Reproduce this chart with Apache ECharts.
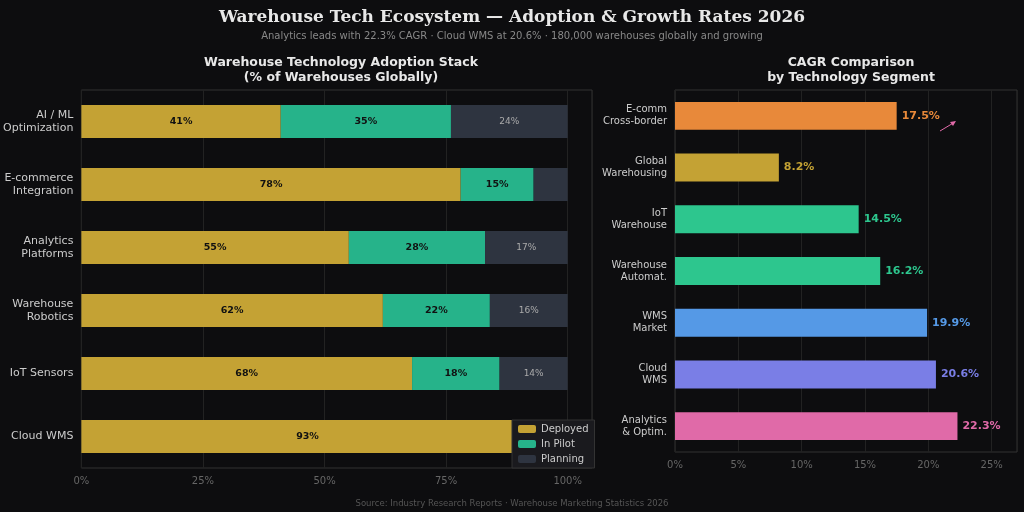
<!DOCTYPE html><html><head><meta charset="utf-8"><script src="https://cdn.jsdelivr.net/npm/echarts@6/dist/echarts.min.js"></script>
<style>body{margin:0;background:#0d0d0f}#c{width:1024px;height:512px}</style></head><body><div id="c"></div><script>
const stackCats=['AI / ML\nOptimization','E-commerce\nIntegration','Analytics\nPlatforms','Warehouse\nRobotics','IoT Sensors','Cloud WMS'];
const deployed=[41,78,55,62,68,93];
const pilot=[35,15,28,22,18,4];
const planning=[24,7,17,16,14,3];
const cagrCats=['E-comm\nCross-border','Global\nWarehousing','IoT\nWarehouse','Warehouse\nAutomat.','WMS\nMarket','Cloud\nWMS','Analytics\n& Optim.'];
const cagr=[17.5,8.2,14.5,16.2,19.9,20.6,22.3];
const cagrColors=['#e8893a','#c4a234','#2dc68e','#2dc68e','#5599e6','#7a7ee6','#e06aa8'];
const ff='DejaVu Sans';
const ch=echarts.init(document.getElementById('c'));
const axisC={color:'#666',fontFamily:ff,fontSize:10};
ch.setOption({backgroundColor:'#0d0d0f',animation:false,
title:[{text:'Warehouse Tech Ecosystem — Adoption & Growth Rates 2026',left:'center',top:4,textStyle:{color:'#e8e8e8',fontFamily:'DejaVu Serif',fontSize:17,fontWeight:'bold'}},
{text:'Analytics leads with 22.3% CAGR · Cloud WMS at 20.6% · 180,000 warehouses globally and growing',left:'center',top:26,textStyle:{color:'#888',fontFamily:ff,fontSize:10,fontWeight:'normal'}},
{text:'Warehouse Technology Adoption Stack\n(% of Warehouses Globally)',left:336,textAlign:'center',top:50,textStyle:{color:'#e8e8e8',fontFamily:ff,fontSize:12.5,fontWeight:'bold',lineHeight:15}},
{text:'CAGR Comparison\nby Technology Segment',left:846,textAlign:'center',top:50,textStyle:{color:'#e8e8e8',fontFamily:ff,fontSize:12.5,fontWeight:'bold',lineHeight:15}},
{text:'Source: Industry Research Reports · Warehouse Marketing Statistics 2026',left:'center',top:494,textStyle:{color:'#555',fontFamily:ff,fontSize:8.5,fontWeight:'normal'}}],
legend:{data:['Deployed','In Pilot','Planning'],orient:'vertical',left:512,top:420,itemWidth:18,itemHeight:8,itemGap:5,backgroundColor:'#1a1a1e',borderColor:'#333',borderWidth:1,padding:[4,6],textStyle:{color:'#ccc',fontFamily:ff,fontSize:10}},
grid:[{left:80,top:90,width:512,height:378,show:true,borderColor:'#333',backgroundColor:'transparent'},
{left:675,top:90,width:342,height:362,show:true,borderColor:'#333',backgroundColor:'transparent'}],
xAxis:[{gridIndex:0,type:'value',min:0,max:105,interval:25,axisLabel:{...axisC,formatter:v=>v>100?'':v+'%',showMaxLabel:false},splitLine:{lineStyle:{color:'#222'}},axisLine:{show:false},axisTick:{show:false}},
{gridIndex:1,type:'value',min:0,max:27,interval:5,axisLabel:{...axisC,formatter:v=>v>25?'':v+'%',showMaxLabel:false},splitLine:{lineStyle:{color:'#222'}},axisLine:{show:false},axisTick:{show:false}}],
yAxis:[{gridIndex:0,type:'category',inverse:true,data:stackCats,axisLabel:{color:'#ccc',fontFamily:ff,fontSize:11,lineHeight:13},axisLine:{show:false},axisTick:{show:false}},
{gridIndex:1,type:'category',inverse:true,data:cagrCats,axisLabel:{color:'#ccc',fontFamily:ff,fontSize:10,lineHeight:12},axisLine:{show:false},axisTick:{show:false}}],
series:[
{name:'Deployed',type:'bar',stack:'s',barWidth:'52%',data:deployed,itemStyle:{color:'#c4a234'},label:{show:true,formatter:'{c}%',color:'#111',fontWeight:'bold',fontSize:9.5,fontFamily:ff}},
{name:'In Pilot',type:'bar',stack:'s',data:pilot,itemStyle:{color:'#26b38a'},label:{show:true,formatter:p=>p.value>=10?p.value+'%':'',color:'#111',fontWeight:'bold',fontSize:9.5,fontFamily:ff}},
{name:'Planning',type:'bar',stack:'s',data:planning,itemStyle:{color:'#2e3440'},label:{show:true,formatter:p=>p.value>=10?p.value+'%':'',color:'#aaa',fontSize:9,fontFamily:ff}},
{type:'bar',xAxisIndex:1,yAxisIndex:1,barWidth:'54%',data:cagr.map((v,i)=>({value:v,itemStyle:{color:cagrColors[i]},label:{color:cagrColors[i]}})),label:{show:true,position:'right',formatter:'{c}%',fontWeight:'bold',fontSize:11,fontFamily:ff},
markPoint:{symbol:'none',data:[{coord:[19.5,0],label:{show:true,formatter:'Fastest\nGrowing',color:'#e06aa8',fontSize:8,fontWeight:'bold',fontFamily:ff,offset:[0,24]}}]}}
],
graphic:[{type:'line',shape:{x1:940,y1:131,x2:955,y2:122},style:{stroke:'#e06aa8',lineWidth:1}},
{type:'polygon',shape:{points:[[956,121],[950,122],[953,126]]},style:{fill:'#e06aa8'}}]
});
</script></body></html>
